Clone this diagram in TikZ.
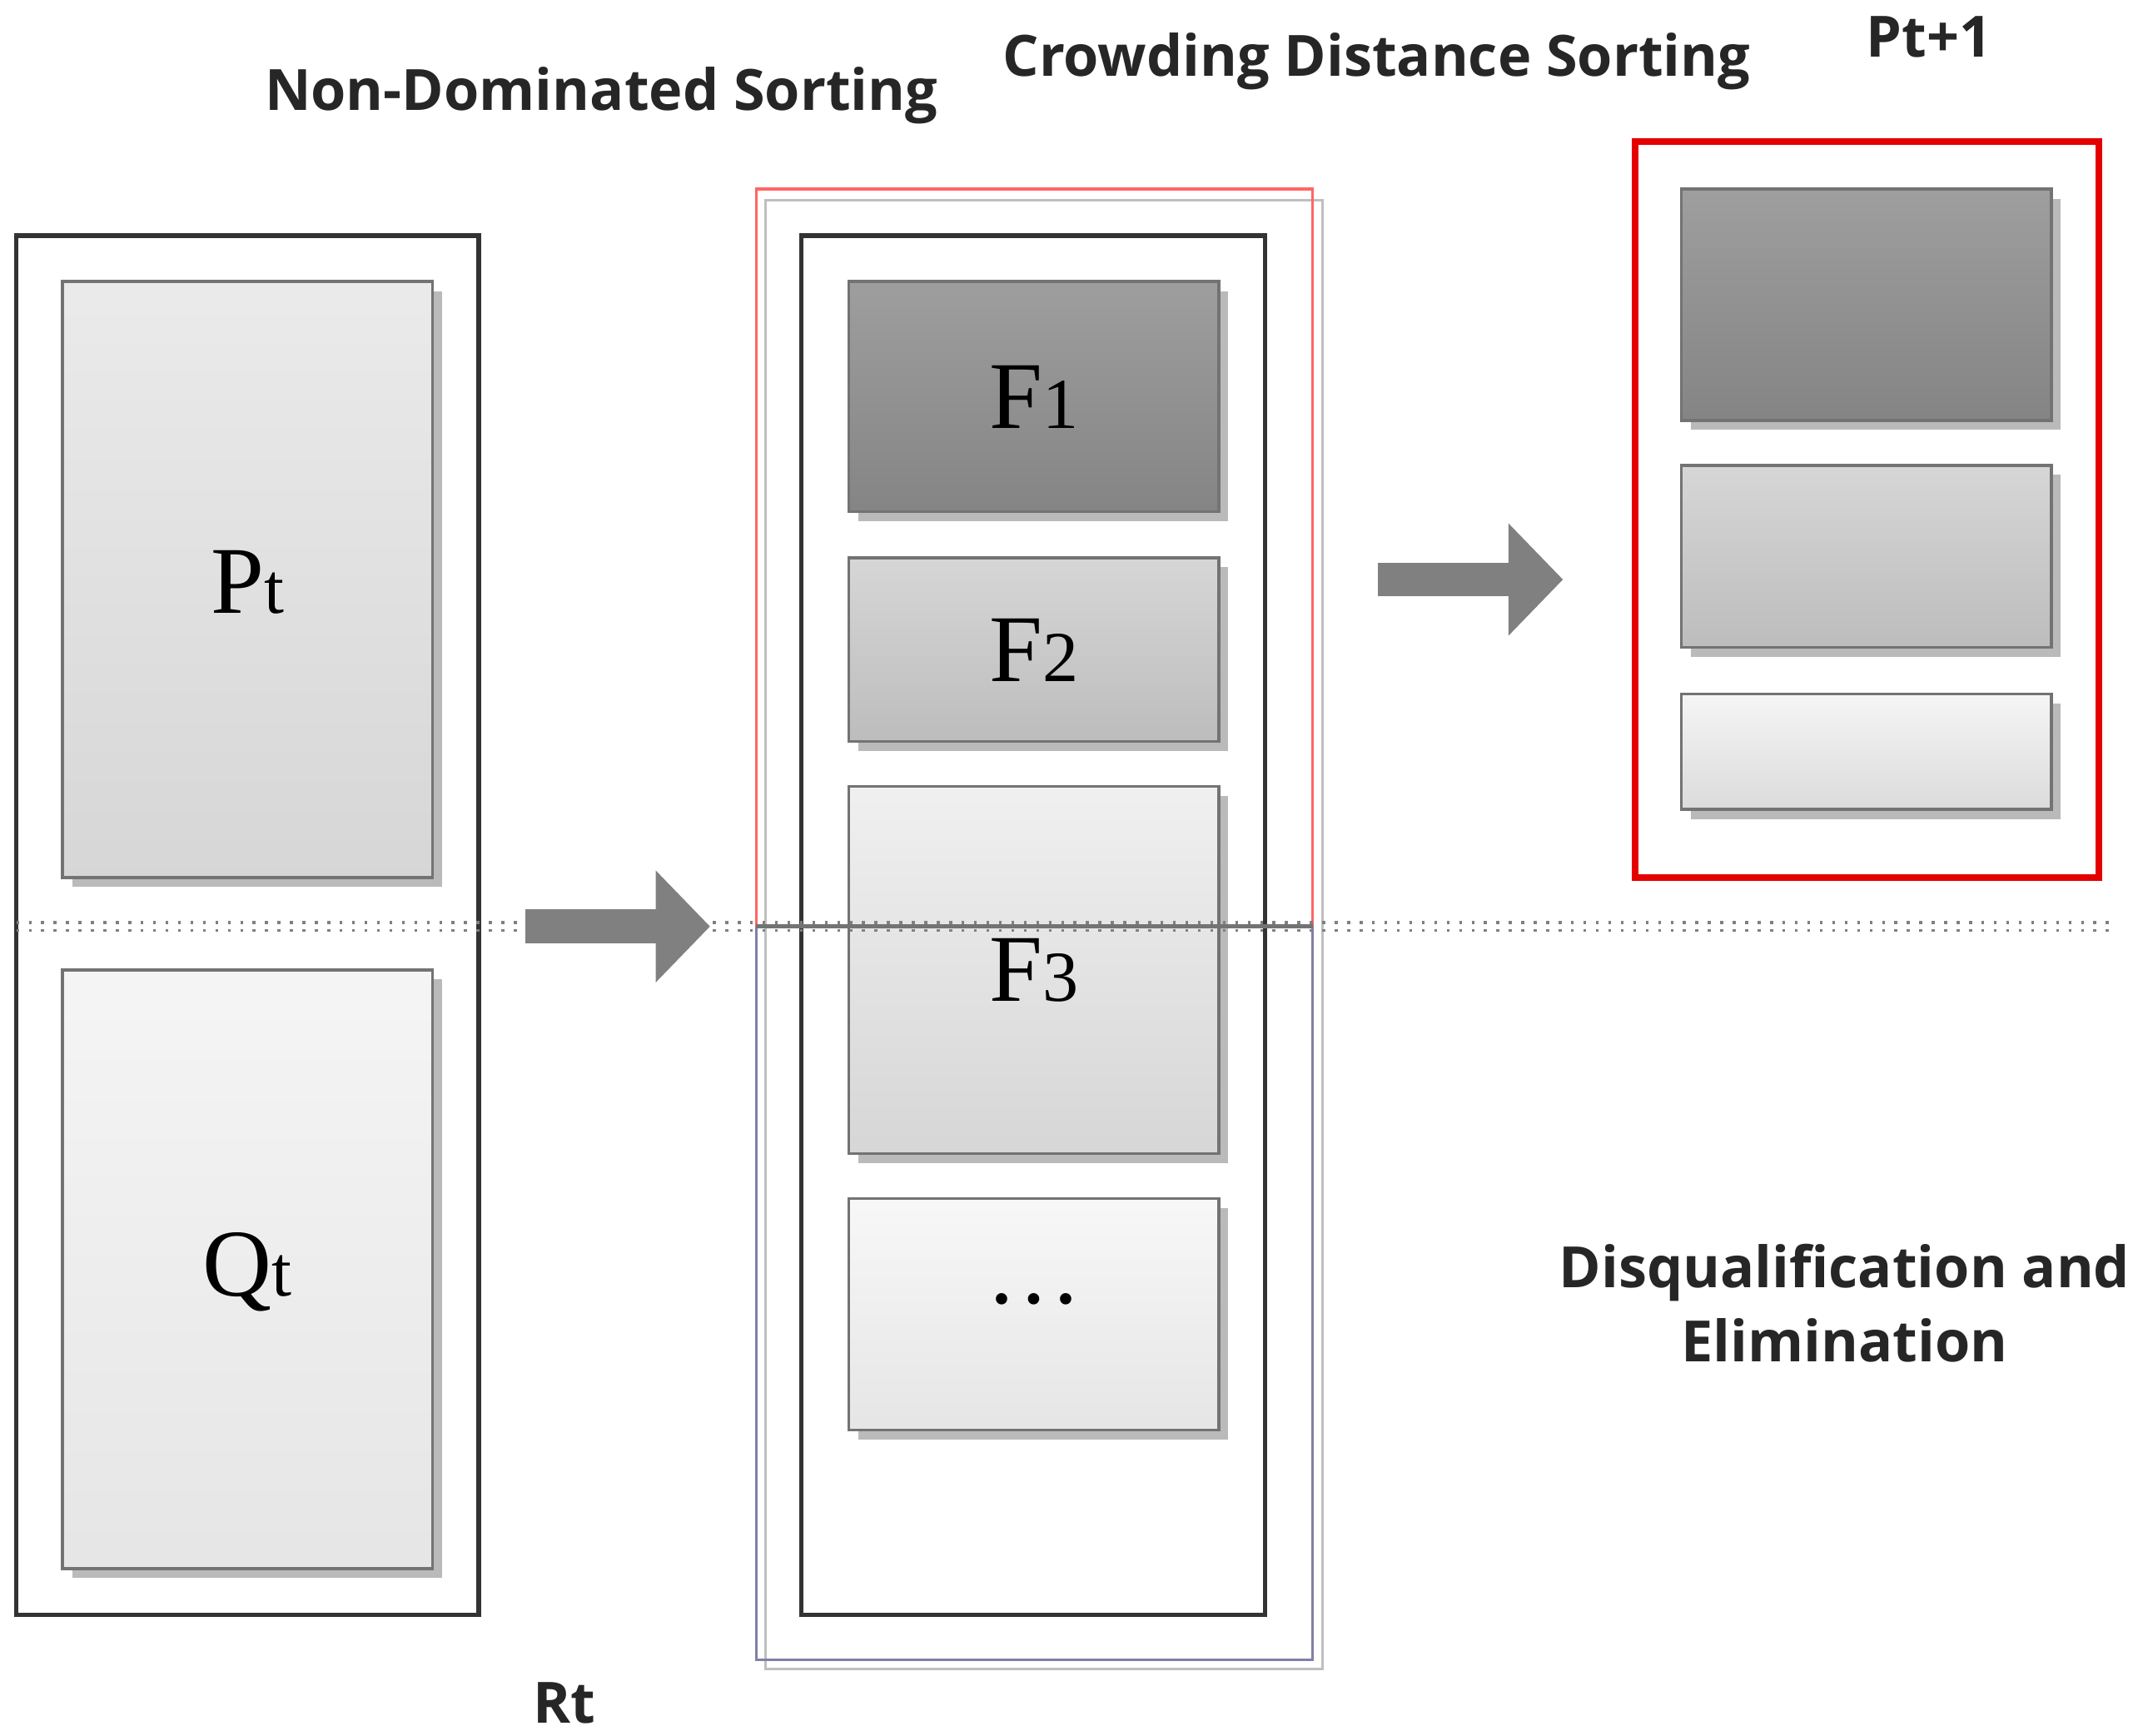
\documentclass[tikz,border=0pt]{standalone}
\usepackage{fontspec}
\setmainfont{Liberation Serif}
\newfontfamily\lab{Open Sans}
\usetikzlibrary{shadows,arrows.meta}
\begin{document}
\begin{tikzpicture}[x=0.01cm,y=-0.01cm,
  box/.style={draw=black!55,line width=0.6pt,drop shadow={shadow xshift=0.07cm,shadow yshift=-0.07cm,fill=black!45,opacity=0.6}},
  ttl/.style={font=\lab\bfseries\fontsize{11.9}{16}\selectfont,text=black!85,align=center},
  big/.style={line width=0.25cm,draw=black!50,-{Triangle[length=0.4cm,width=0.8cm]}},
  lbl/.style={font=\fontsize{20}{22}\selectfont}]
\useasboundingbox (0,0) rectangle (1568,1276);
% left
\draw[black!80,line width=1pt] (12,173) rectangle (352,1187);
\path[box,top color=black!8,bottom color=black!16] (46,207) rectangle (318,645);
\path[box,top color=black!4,bottom color=black!10] (46,713) rectangle (318,1153);
\node[lbl] (pt) at (182,428) {P\fontsize{15}{16}\selectfont t};
\node[lbl] (qt) at (182,935) {Q\fontsize{15}{16}\selectfont t};
% middle frames
\draw[black!25,line width=0.5pt] (563,147) rectangle (972,1227);
\draw[red!60,line width=0.6pt] (556,681)--(556,139)--(965,139)--(965,681);
\draw[blue!30!black!50,line width=0.6pt] (556,681)--(556,1220)--(965,1220)--(965,681);
\draw[black!80,line width=1pt] (589,173) rectangle (930,1187);
\path[box,top color=black!38,bottom color=black!48] (624,207) rectangle (896,376);
\path[box,top color=black!16,bottom color=black!26] (624,410) rectangle (896,545);
\path[box,top color=black!6,bottom color=black!16] (624,578) rectangle (896,848);
\path[box,top color=black!3,bottom color=black!10] (624,881) rectangle (896,1051);
\node[lbl] (f1) at (760,292) {F\fontsize{15}{16}\selectfont 1};
\node[lbl] (f2) at (760,478) {F\fontsize{15}{16}\selectfont 2};
\node[lbl] (f3) at (760,713) {F\fontsize{15}{16}\selectfont 3};
\node[lbl] (f4) at (760,955) {…};
% dotted line over everything
\coordinate (l1) at (12,678); \coordinate (r1) at (1550,678);
\coordinate (l2) at (12,684); \coordinate (r2) at (1550,684);
\draw[black!50,dotted,line width=0.6pt] (l1)--(r1);
\draw[black!50,dotted,line width=0.6pt] (l2)--(r2);
\draw[black!55,line width=0.8pt] (556,681)--(965,681);
% arrows
\coordinate (a1) at (386,681); \coordinate (a2) at (522,681);
\draw[big] (a1)--(a2);
\coordinate (b1) at (1013,426); \coordinate (b2) at (1149,426);
\draw[big] (b1)--(b2);
% right
\draw[red!90!black,line width=1.3pt] (1202,104) rectangle (1543,645);
\path[box,top color=black!38,bottom color=black!48] (1236,139) rectangle (1508,309);
\path[box,top color=black!16,bottom color=black!26] (1236,342) rectangle (1508,476);
\path[box,top color=black!4,bottom color=black!14] (1236,510) rectangle (1508,595);
% titles
\node[ttl] (t1) at (442,70) {Non-Dominated Sorting};
\node[ttl] (t2) at (1012,45) {Crowding Distance Sorting};
\node[ttl] (t3) at (1418,27) {Pt+1};
\node[ttl] (t4) at (415,1252) {Rt};
\node[ttl,font=\lab\bfseries\fontsize{11.9}{15.5}\selectfont] (t5) at (1356,958) {Disqualification and\\Elimination};
\end{tikzpicture}
\end{document}
